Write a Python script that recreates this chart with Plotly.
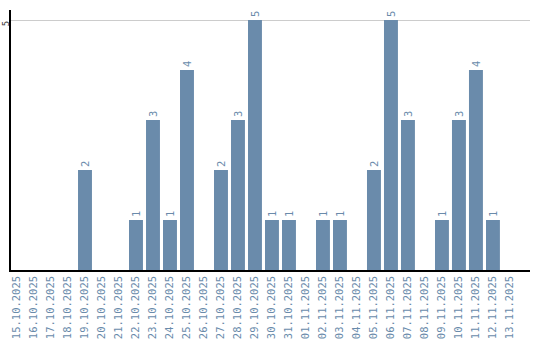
import plotly.graph_objects as go

dates = ["15.10.2025","16.10.2025","17.10.2025","18.10.2025","19.10.2025","20.10.2025",
         "21.10.2025","22.10.2025","23.10.2025","24.10.2025","25.10.2025","26.10.2025",
         "27.10.2025","28.10.2025","29.10.2025","30.10.2025","31.10.2025","01.11.2025",
         "02.11.2025","03.11.2025","04.11.2025","05.11.2025","06.11.2025","07.11.2025",
         "08.11.2025","09.11.2025","10.11.2025","11.11.2025","12.11.2025","13.11.2025"]
values = [0,0,0,0,2,0,0,1,3,1,4,0,2,3,5,1,1,0,1,1,0,2,5,3,0,1,3,4,1,0]

bar_color = "#6a8bab"
labels = [str(v) if v else "" for v in values]

fig = go.Figure(go.Bar(
    x=dates, y=values, marker_color=bar_color, marker_line_width=0,
    text=labels, textposition="outside", textangle=-90, cliponaxis=False,
    textfont=dict(family="DejaVu Sans Mono", size=10.5, color=bar_color),
))
fig.update_layout(
    width=540, height=340, margin=dict(l=11, r=10, t=10, b=70),
    paper_bgcolor="white", plot_bgcolor="white", bargap=0.18, showlegend=False,
    font=dict(family="DejaVu Sans Mono", size=10),
)
fig.update_xaxes(type="category", range=[-0.353, 30.18], tickangle=-90, automargin=False,
                 tickfont=dict(color=bar_color, size=10.5, family="DejaVu Sans Mono"),
                 showline=True, linecolor="black", linewidth=1.5, showgrid=False,
                 ticks="", ticklen=0)
fig.update_yaxes(range=[0, 5.2], tickvals=[5], ticktext=["5"], tickangle=-90, automargin=False,
                 ticklabelstandoff=-3, ticklabelshift=5,
                 tickfont=dict(color="#333333", size=9, family="DejaVu Sans Mono"),
                 showline=True, linecolor="black", linewidth=1.5,
                 showgrid=True, gridcolor="#cccccc", gridwidth=1, zeroline=False, ticks="")
fig.write_html("out.html")
